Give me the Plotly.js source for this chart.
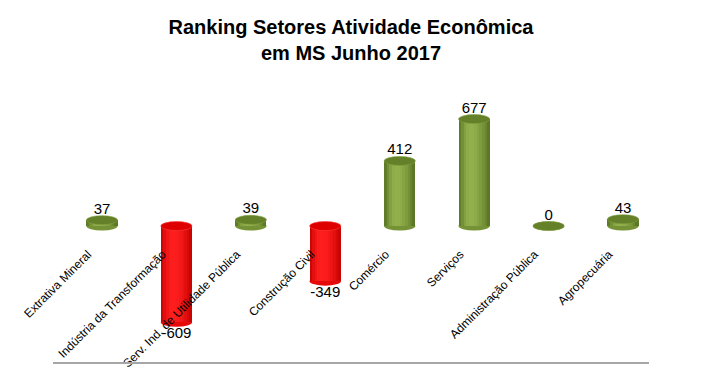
<!DOCTYPE html>
<html>
<head>
<meta charset="utf-8">
<script src="https://cdn.plot.ly/plotly-3.0.1.min.js"></script>
<style>html,body{margin:0;padding:0;background:#fff}#chart{width:706px;height:379px}</style>
</head>
<body>
<div id="chart"></div>
<script>
const categories = ["Extrativa Mineral", "Indústria da Transformação", "Serv. Ind. de Utilidade Pública", "Construção Civil", "Comércio", "Serviços", "Administração Pública", "Agropecuária"];
const values = [37, -609, 39, -349, 412, 677, 0, 43];
const labels = ["37", "-609", "39", "-349", "412", "677", "0", "43"];

const W = 706, H = 379;
const margin = {l: 53, r: 57, t: 90, b: 16};
const yRange = [-867, 861];
const xRange = [-0.658, 7.349];
const plotH = H - margin.t - margin.b;
const unitsPerPx = (yRange[1] - yRange[0]) / plotH;
const barW = 0.42;
const ellH = 4.5 * unitsPerPx;
const idx = categories.map((_, i) => i);

// cylinder shading stripes
const nStripes = 12;
const greenDark = [86, 113, 33], greenLight = [146, 176, 76];
const redDark = [196, 0, 0], redLight = [255, 30, 30];
function mix(a, b, t) { return 'rgb(' + a.map((v, k) => Math.round(v + (b[k] - v) * t)).join(',') + ')'; }
function shade(t) { // t in [0,1] across the cylinder
  const d = (t - 0.38) / (t < 0.38 ? 0.38 : 0.62);
  return Math.max(0, Math.cos(d * Math.PI / 2));
}
const traces = [];
for (let s = 0; s < nStripes; s++) {
  const t = (s + 0.5) / nStripes;
  const b = shade(t);
  const sw = barW / nStripes;
  traces.push({
    type: 'bar', x: idx, y: values,
    width: sw * 1.25,
    offset: -barW / 2 + s * sw - (s === nStripes - 1 ? sw * 0.25 : 0),
    marker: {color: values.map(v => v < 0 ? mix(redDark, redLight, b) : mix(greenDark, greenLight, b)), line: {width: 0}},
    hoverinfo: 'skip', showlegend: false
  });
}
// value labels
traces.push({
  type: 'scatter', mode: 'text', x: idx,
  y: values.map(v => v < 0 ? v - ellH : v + ellH * 0.6),
  text: labels,
  textposition: values.map(v => v < 0 ? 'bottom center' : 'top center'),
  textfont: {family: 'Liberation Sans, Arial, sans-serif', size: 15, color: '#000'},
  hoverinfo: 'skip', showlegend: false, cliponaxis: false
});

const shapes = [];
values.forEach((v, i) => {
  const top = Math.max(v, 0), bot = Math.min(v, 0);
  const neg = v < 0;
  shapes.push({type: 'circle', xref: 'x', yref: 'y', layer: 'below',
    x0: i - barW / 2, x1: i + barW / 2, y0: bot - ellH, y1: bot + ellH,
    fillcolor: neg ? 'rgb(230,10,10)' : 'rgb(118,146,54)', line: {width: 0}});
  shapes.push({type: 'circle', xref: 'x', yref: 'y', layer: 'above',
    x0: i - barW / 2, x1: i + barW / 2, y0: top - ellH, y1: top + ellH,
    fillcolor: neg ? 'rgb(222,0,0)' : 'rgb(100,128,40)', line: {width: 0.6, color: neg ? 'rgb(255,60,60)' : 'rgb(130,158,66)'}});
});
shapes.push({type: 'line', xref: 'paper', yref: 'paper', x0: 0, x1: 1, y0: 0, y1: 0,
  line: {color: '#a6a6a6', width: 2}});

const zeroPos = (0 - yRange[0]) / (yRange[1] - yRange[0]);
const titleFont = {family: 'Liberation Sans, Arial, sans-serif', size: 20, color: '#000', weight: 'bold'};

const layout = {
  width: W, height: H,
  margin: margin,
  paper_bgcolor: '#fff', plot_bgcolor: 'rgba(0,0,0,0)',
  barmode: 'overlay', bargap: 0,
  title: {
    text: 'Ranking Setores Atividade Econômica<br>em MS Junho 2017',
    font: titleFont,
    x: 0.5, xref: 'paper', y: 1 - 34 / H, yref: 'container', yanchor: 'top'
  },
  xaxis: {
    range: xRange, tickvals: idx, ticktext: categories,
    tickangle: -45, anchor: 'free', position: zeroPos,
    showline: false, showgrid: false, zeroline: false, ticks: '',
    ticklabelstandoff: 18, ticklabelshift: -14,
    tickfont: {family: 'Liberation Sans, Arial, sans-serif', size: 12, color: '#000'},
    fixedrange: true
  },
  yaxis: {
    range: yRange, visible: false, showgrid: false, zeroline: false, fixedrange: true
  },
  shapes: shapes,
  showlegend: false
};

Plotly.newPlot('chart', traces, layout, {displayModeBar: false, staticPlot: true});
</script>
</body>
</html>
